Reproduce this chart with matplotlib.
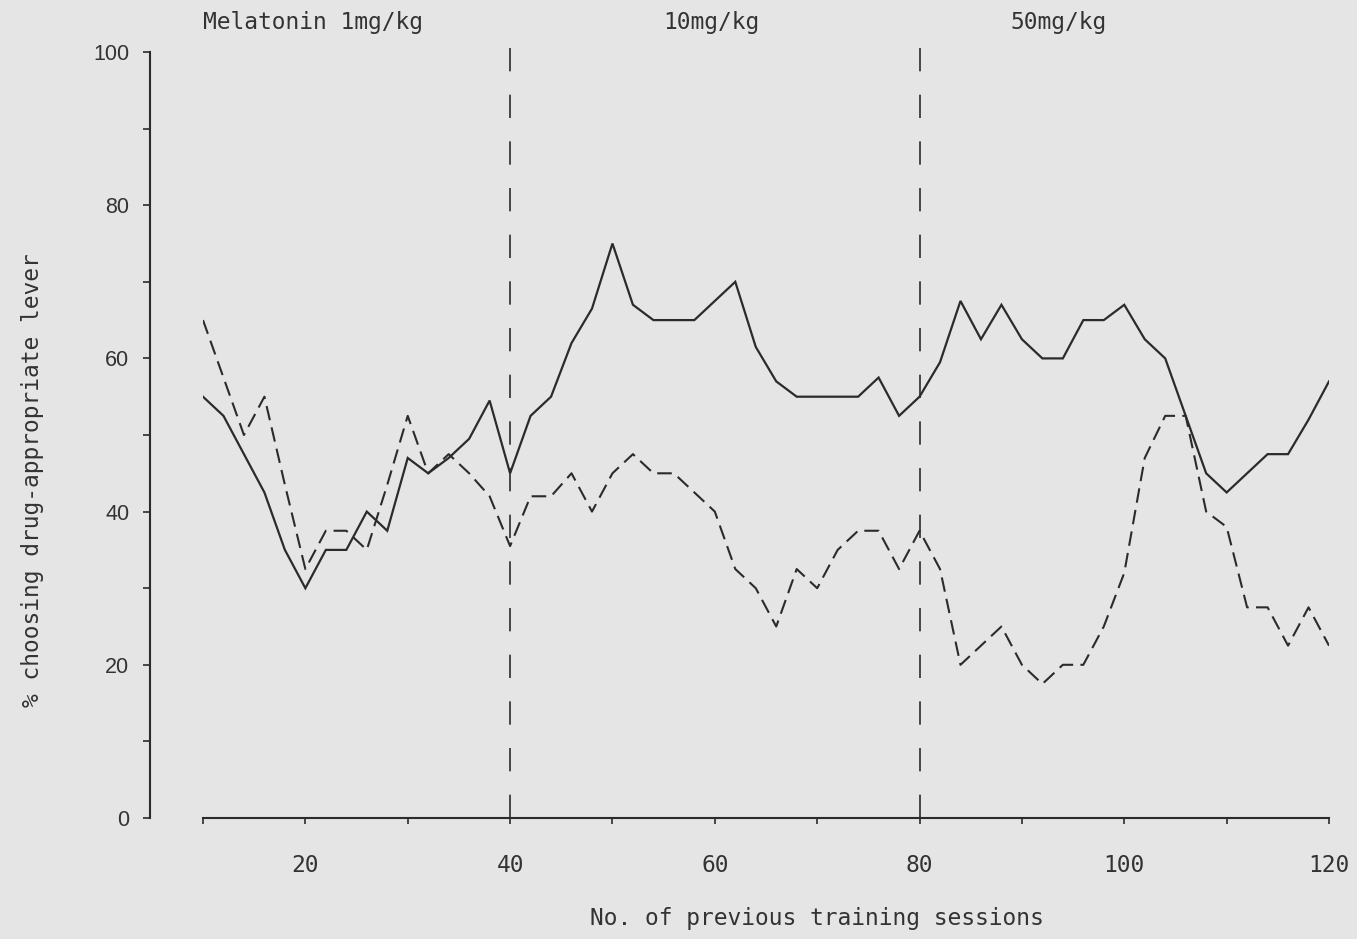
import matplotlib
matplotlib.use("Agg")
import matplotlib.pyplot as plt
from matplotlib.ticker import MultipleLocator

sessions = list(range(10, 121, 2))
drug_lever_solid = [55, 52.5, 47.5, 42.5, 35, 30, 35, 35, 40, 37.5,
                    47, 45, 47, 49.5, 54.5, 45, 52.5, 55, 62, 66.5,
                    75, 67, 65, 65, 65, 67.5, 70, 61.5, 57, 55,
                    55, 55, 55, 57.5, 52.5, 55, 59.5, 67.5, 62.5, 67,
                    62.5, 60, 60, 65, 65, 67, 62.5, 60, 52.5, 45,
                    42.5, 45, 47.5, 47.5, 52, 57]
drug_lever_dashed = [65, 57.5, 50, 55, 43.5, 32.5, 37.5, 37.5, 35, 43.5,
                     52.5, 45, 47.5, 45, 42, 35.5, 42, 42, 45, 40,
                     45, 47.5, 45, 45, 42.5, 40, 32.5, 30, 25, 32.5,
                     30, 35, 37.5, 37.5, 32.5, 37.5, 32.5, 20, 22.5, 25,
                     20, 17.5, 20, 20, 25, 32, 47, 52.5, 52.5, 40,
                     38, 27.5, 27.5, 22.5, 27.5, 22.5]
phase_bounds = [40, 80]
phase_labels = ["Melatonin 1mg/kg", "10mg/kg", "50mg/kg"]
phase_label_x = [10, 55.0, 88.9]
x_ticks = list(range(10, 121, 10))
x_ticklabels = ["" if t % 20 else str(t) for t in x_ticks]
y_ticks = [0, 20, 40, 60, 80, 100]

W, H = 1357, 939
bg = "#e5e5e5"
ink = "#2b2b2b"
mono = "DejaVu Sans Mono"

fig = plt.figure(figsize=(W / 100, H / 100), dpi=100, facecolor=bg)
ax = fig.add_axes([203 / W, (H - 818) / H, 1126 / W, 766 / H])
ax.set_facecolor(bg)
ax.set_xlim(10, 120)
ax.set_ylim(0, 100)

ax.plot(sessions, drug_lever_solid, color=ink, lw=1.6, solid_joinstyle="miter")
ax.plot(sessions, drug_lever_dashed, color=ink, lw=1.5, dashes=(7, 3.5))

for b in phase_bounds:
    ax.plot([b, b], [0, 102.2], color=ink, lw=1.2, dashes=(14, 14), clip_on=False)

for s in ["top", "right"]:
    ax.spines[s].set_visible(False)
ax.spines["left"].set_position(("outward", 38))
ax.spines["left"].set_bounds(0, 100)
ax.spines["bottom"].set_bounds(10, 120)
for s in ["left", "bottom"]:
    ax.spines[s].set_color(ink)
    ax.spines[s].set_linewidth(1.5)

ax.set_xticks(x_ticks)
ax.set_xticklabels(x_ticklabels, fontfamily=mono, fontsize=16.5, color="#333333")
ax.tick_params(axis="x", direction="out", length=4, width=1.2, color=ink, pad=22)

ax.set_yticks(y_ticks)
ax.set_yticklabels([str(t) for t in y_ticks], fontfamily="Liberation Sans",
                   fontsize=15.5, color="#333333")
ax.yaxis.set_minor_locator(MultipleLocator(10))
ax.tick_params(axis="y", which="both", direction="out", length=5, width=1.2,
               color=ink, pad=10)

for lbl, xv in zip(phase_labels, phase_label_x):
    ax.text(xv, 103.8, lbl, fontfamily=mono, fontsize=16.5, color="#333333",
            ha="left", va="center", clip_on=False)

fig.text(817 / W, 1 - 918 / H, "No. of previous training sessions",
         fontfamily=mono, fontsize=16.5, color="#333333", ha="center", va="center")
fig.text(33 / W, 1 - 480 / H, "% choosing drug-appropriate lever",
         fontfamily=mono, fontsize=16.5, color="#333333", ha="center", va="center",
         rotation=90)

fig.savefig("out.png", dpi=100, facecolor=bg)
